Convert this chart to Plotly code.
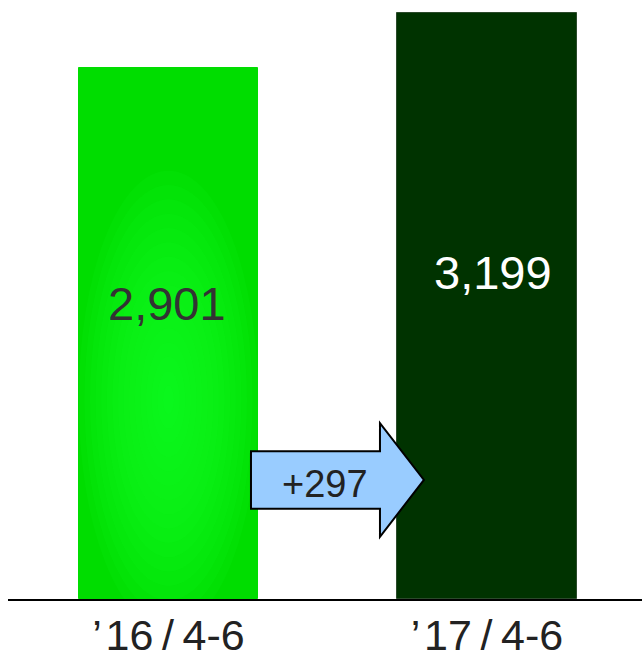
import plotly.graph_objects as go

# Quarterly totals for April-June
periods = ["’\u200a16\u2009/\u20094-6", "’\u200a17\u2009/\u20094-6"]
values = [2901, 3199]
value_labels = ["2,901", "3,199"]
diff_label = "+297"

bar_colors = ["#00DD00", "#003300"]
label_colors = ["#333333", "#FFFFFF"]
FONT = "Arial, Liberation Sans, sans-serif"

x_pos = [0, 1]
bar_width = 0.5636

fig = go.Figure()
fig.add_trace(go.Bar(
    x=x_pos, y=values, width=bar_width,
    marker=dict(color=bar_colors, line=dict(color=["#00DD00", "#2b4a2b"], width=1)),
    hoverinfo="skip", showlegend=False,
))

shapes = []

# Soft radial highlight inside the first bar
glow_center = 0.375 * values[0]
n_layers = 16
for i in range(n_layers):
    s = 1 - i / n_layers
    hw = bar_width / 2 * s
    hh = glow_center * 1.15 * s
    shapes.append(dict(
        type="circle", xref="x", yref="y", layer="above",
        x0=x_pos[0] - hw, x1=x_pos[0] + hw,
        y0=glow_center - hh, y1=glow_center + hh,
        fillcolor="#10FF20", opacity=0.11, line=dict(width=0),
    ))

# Block arrow from the first bar to the second
ax_tail, ax_neck, ax_tip = 0.259, 0.664, 0.802
ay_mid, body_half, head_half = 650, 157, 310
arrow_path = (
    f"M{ax_tail},{ay_mid - body_half} L{ax_neck},{ay_mid - body_half} "
    f"L{ax_neck},{ay_mid - head_half} L{ax_tip},{ay_mid} "
    f"L{ax_neck},{ay_mid + head_half} L{ax_neck},{ay_mid + body_half} "
    f"L{ax_tail},{ay_mid + body_half} Z"
)
shapes.append(dict(
    type="path", path=arrow_path, xref="x", yref="y", layer="above",
    fillcolor="#99CCFF", line=dict(color="#000000", width=2),
))

annotations = []
label_frac = [0.557, 0.558]
label_shift = [-1, 6]
for xp, v, txt, col, fr, sh in zip(x_pos, values, value_labels, label_colors, label_frac, label_shift):
    annotations.append(dict(
        x=xp, y=v * fr, xref="x", yref="y", text=txt, showarrow=False,
        xshift=sh, font=dict(family=FONT, size=47, color=col),
    ))
annotations.append(dict(
    x=0.491, y=628, xref="x", yref="y", text=diff_label, showarrow=False,
    font=dict(family=FONT, size=38, color="#222222"),
))

fig.update_layout(
    width=642, height=658,
    margin=dict(l=8, r=0, t=0, b=59),
    paper_bgcolor="white", plot_bgcolor="white",
    shapes=shapes, annotations=annotations,
    bargap=0,
)
fig.update_xaxes(
    range=[-0.5039, 1.4867], tickvals=x_pos, ticktext=periods,
    showline=True, linecolor="#000000", linewidth=2,
    ticks="", ticklabelstandoff=-3,
    tickfont=dict(family=FONT, size=43, color="#222222"),
    showgrid=False, zeroline=False, fixedrange=True, automargin=False,
)
fig.update_yaxes(
    range=[0, 3271], visible=False, showgrid=False, zeroline=False,
    automargin=False,
)

fig.write_html("out.html")
